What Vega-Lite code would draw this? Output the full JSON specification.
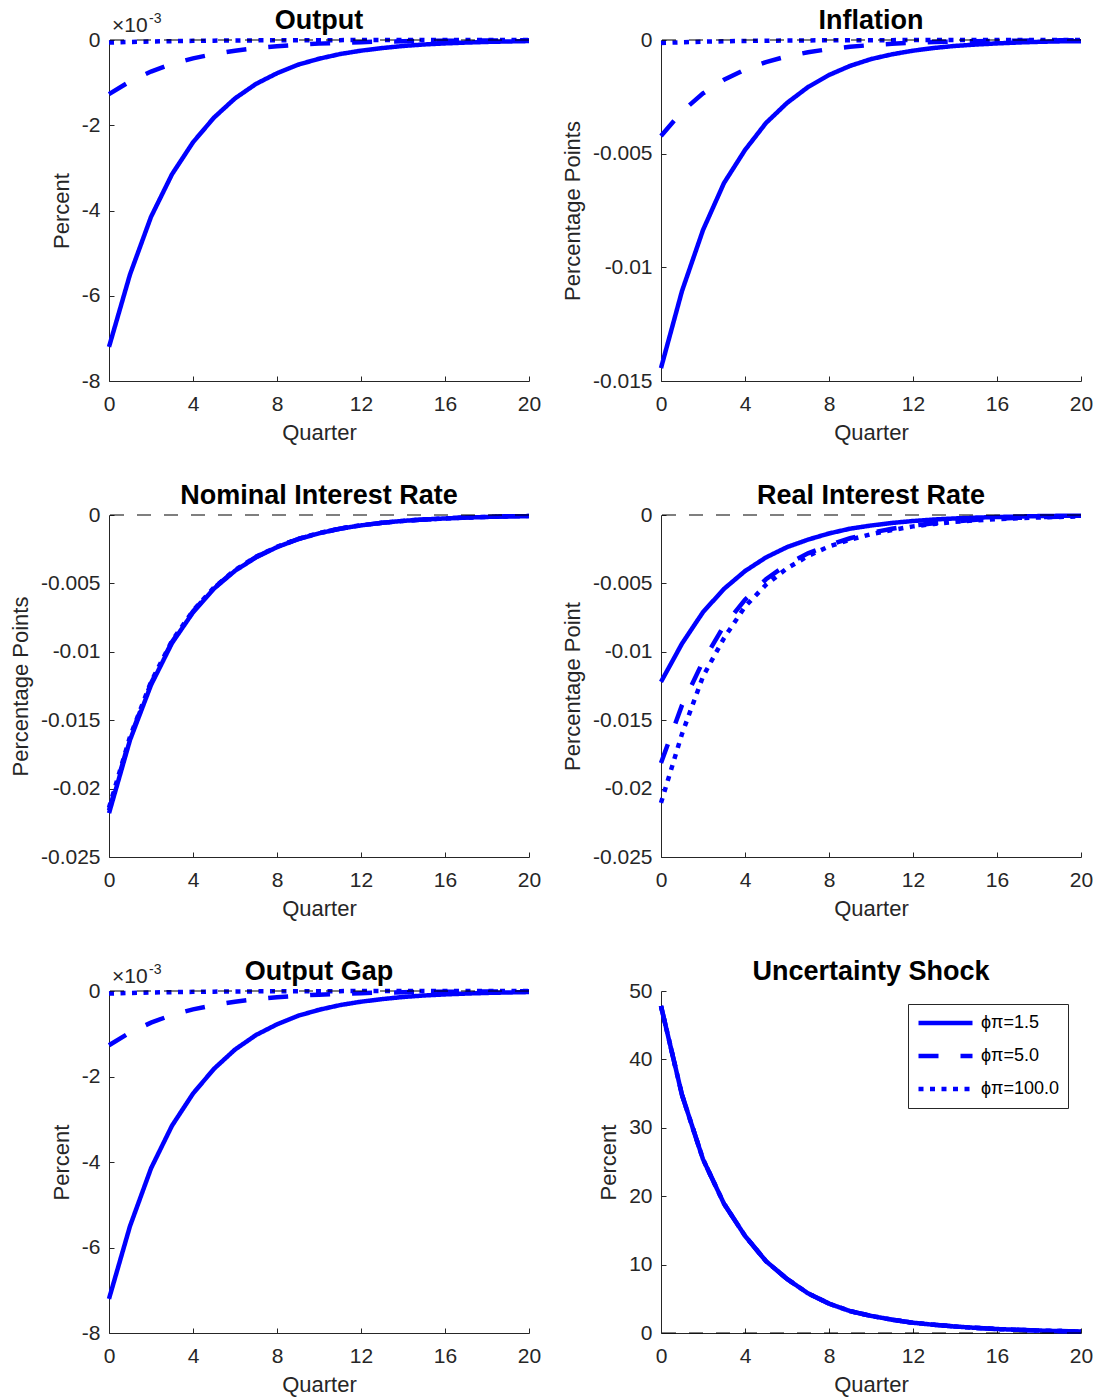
{
  "$schema": "https://vega.github.io/schema/vega-lite/v6.json",
  "background": "white",
  "padding": {"left": 9, "top": 7, "right": 5, "bottom": 2},
  "spacing": {"row": 39, "column": 20},
  "columns": 2,
  "datasets": {
    "irf": [
      {"p":"out","q":0,"a":-0.0072,"b":-0.00127,"c":-0.00006},
      {"p":"out","q":1,"a":-0.0055,"b":-0.00097,"c":-0.000046},
      {"p":"out","q":2,"a":-0.00415,"b":-0.00074,"c":-0.000035},
      {"p":"out","q":3,"a":-0.00315,"b":-0.00056,"c":-0.000027},
      {"p":"out","q":4,"a":-0.0024,"b":-0.00043,"c":-0.00002},
      {"p":"out","q":5,"a":-0.00182,"b":-0.00033,"c":-0.000015},
      {"p":"out","q":6,"a":-0.00137,"b":-0.00025,"c":-0.000012},
      {"p":"out","q":7,"a":-0.00103,"b":-0.00019,"c":-0.000009},
      {"p":"out","q":8,"a":-0.00078,"b":-0.000145,"c":-0.000007},
      {"p":"out","q":9,"a":-0.00058,"b":-0.00011,"c":-0.000005},
      {"p":"out","q":10,"a":-0.00044,"b":-0.000085,"c":-0.000004},
      {"p":"out","q":11,"a":-0.00033,"b":-0.000065,"c":-0.000003},
      {"p":"out","q":12,"a":-0.00025,"b":-0.00005,"c":-0.0000023},
      {"p":"out","q":13,"a":-0.00019,"b":-0.000038,"c":-0.0000017},
      {"p":"out","q":14,"a":-0.00014,"b":-0.000029,"c":-0.0000013},
      {"p":"out","q":15,"a":-0.000105,"b":-0.000022,"c":-0.000001},
      {"p":"out","q":16,"a":-0.00008,"b":-0.000017,"c":-0.0000008},
      {"p":"out","q":17,"a":-0.00006,"b":-0.000013,"c":-0.0000006},
      {"p":"out","q":18,"a":-0.000045,"b":-0.00001,"c":-0.0000005},
      {"p":"out","q":19,"a":-0.000034,"b":-0.000008,"c":-0.0000004},
      {"p":"out","q":20,"a":-0.000025,"b":-0.000006,"c":-0.0000003},

      {"p":"inf","q":0,"a":-0.01443,"b":-0.00422,"c":-0.00013},
      {"p":"inf","q":1,"a":-0.01104,"b":-0.00315,"c":-0.0001},
      {"p":"inf","q":2,"a":-0.00836,"b":-0.00235,"c":-0.000075},
      {"p":"inf","q":3,"a":-0.00629,"b":-0.00175,"c":-0.000056},
      {"p":"inf","q":4,"a":-0.00484,"b":-0.0013,"c":-0.000042},
      {"p":"inf","q":5,"a":-0.00365,"b":-0.00097,"c":-0.000032},
      {"p":"inf","q":6,"a":-0.00277,"b":-0.00072,"c":-0.000024},
      {"p":"inf","q":7,"a":-0.00207,"b":-0.00054,"c":-0.000018},
      {"p":"inf","q":8,"a":-0.00154,"b":-0.0004,"c":-0.000013},
      {"p":"inf","q":9,"a":-0.00114,"b":-0.0003,"c":-0.00001},
      {"p":"inf","q":10,"a":-0.00084,"b":-0.00022,"c":-0.0000075},
      {"p":"inf","q":11,"a":-0.00063,"b":-0.00017,"c":-0.0000056},
      {"p":"inf","q":12,"a":-0.00047,"b":-0.00012,"c":-0.0000042},
      {"p":"inf","q":13,"a":-0.00035,"b":-0.00009,"c":-0.0000032},
      {"p":"inf","q":14,"a":-0.00026,"b":-0.00007,"c":-0.0000024},
      {"p":"inf","q":15,"a":-0.0002,"b":-0.00005,"c":-0.0000018},
      {"p":"inf","q":16,"a":-0.00015,"b":-0.00004,"c":-0.0000013},
      {"p":"inf","q":17,"a":-0.00011,"b":-0.00003,"c":-0.000001},
      {"p":"inf","q":18,"a":-0.00008,"b":-0.00002,"c":-0.0000008},
      {"p":"inf","q":19,"a":-0.00006,"b":-0.000015,"c":-0.0000006},
      {"p":"inf","q":20,"a":-0.00005,"b":-0.00001,"c":-0.0000004},

      {"p":"nom","q":0,"a":-0.0218,"b":-0.0216,"c":-0.0214},
      {"p":"nom","q":1,"a":-0.01645,"b":-0.0163,"c":-0.0162},
      {"p":"nom","q":2,"a":-0.01243,"b":-0.0123,"c":-0.0122},
      {"p":"nom","q":3,"a":-0.00936,"b":-0.00927,"c":-0.0092},
      {"p":"nom","q":4,"a":-0.00712,"b":-0.00705,"c":-0.007},
      {"p":"nom","q":5,"a":-0.00538,"b":-0.00533,"c":-0.0053},
      {"p":"nom","q":6,"a":-0.00408,"b":-0.00404,"c":-0.00402},
      {"p":"nom","q":7,"a":-0.0031,"b":-0.00307,"c":-0.00305},
      {"p":"nom","q":8,"a":-0.00235,"b":-0.00233,"c":-0.00232},
      {"p":"nom","q":9,"a":-0.00177,"b":-0.00176,"c":-0.00175},
      {"p":"nom","q":10,"a":-0.00134,"b":-0.00133,"c":-0.00132},
      {"p":"nom","q":11,"a":-0.001,"b":-0.001,"c":-0.00099},
      {"p":"nom","q":12,"a":-0.00076,"b":-0.00076,"c":-0.00075},
      {"p":"nom","q":13,"a":-0.00057,"b":-0.00057,"c":-0.00057},
      {"p":"nom","q":14,"a":-0.00043,"b":-0.00043,"c":-0.00043},
      {"p":"nom","q":15,"a":-0.00033,"b":-0.00033,"c":-0.00033},
      {"p":"nom","q":16,"a":-0.00025,"b":-0.00025,"c":-0.00025},
      {"p":"nom","q":17,"a":-0.00019,"b":-0.00019,"c":-0.00019},
      {"p":"nom","q":18,"a":-0.00014,"b":-0.00014,"c":-0.00014},
      {"p":"nom","q":19,"a":-0.0001,"b":-0.0001,"c":-0.0001},
      {"p":"nom","q":20,"a":-0.00008,"b":-0.00008,"c":-0.00008},

      {"p":"real","q":0,"a":-0.0122,"b":-0.01813,"c":-0.02105},
      {"p":"real","q":1,"a":-0.0094,"b":-0.0139,"c":-0.016},
      {"p":"real","q":2,"a":-0.0071,"b":-0.0107,"c":-0.0118},
      {"p":"real","q":3,"a":-0.0054,"b":-0.0081,"c":-0.009},
      {"p":"real","q":4,"a":-0.0041,"b":-0.0062,"c":-0.0067},
      {"p":"real","q":5,"a":-0.0031,"b":-0.0047,"c":-0.0051},
      {"p":"real","q":6,"a":-0.00235,"b":-0.0036,"c":-0.0039},
      {"p":"real","q":7,"a":-0.0018,"b":-0.0028,"c":-0.003},
      {"p":"real","q":8,"a":-0.00135,"b":-0.0022,"c":-0.0023},
      {"p":"real","q":9,"a":-0.001,"b":-0.0017,"c":-0.0018},
      {"p":"real","q":10,"a":-0.00077,"b":-0.0013,"c":-0.0014},
      {"p":"real","q":11,"a":-0.00058,"b":-0.001,"c":-0.0011},
      {"p":"real","q":12,"a":-0.00044,"b":-0.00077,"c":-0.00083},
      {"p":"real","q":13,"a":-0.00033,"b":-0.0006,"c":-0.00065},
      {"p":"real","q":14,"a":-0.00025,"b":-0.00046,"c":-0.0005},
      {"p":"real","q":15,"a":-0.00019,"b":-0.00035,"c":-0.00039},
      {"p":"real","q":16,"a":-0.00015,"b":-0.00027,"c":-0.0003},
      {"p":"real","q":17,"a":-0.00011,"b":-0.0002,"c":-0.00023},
      {"p":"real","q":18,"a":-0.00008,"b":-0.00016,"c":-0.00018},
      {"p":"real","q":19,"a":-0.00006,"b":-0.00012,"c":-0.00014},
      {"p":"real","q":20,"a":-0.00005,"b":-0.00009,"c":-0.00011},

      {"p":"gap","q":0,"a":-0.0072,"b":-0.00127,"c":-0.00006},
      {"p":"gap","q":1,"a":-0.0055,"b":-0.00097,"c":-0.000046},
      {"p":"gap","q":2,"a":-0.00415,"b":-0.00074,"c":-0.000035},
      {"p":"gap","q":3,"a":-0.00315,"b":-0.00056,"c":-0.000027},
      {"p":"gap","q":4,"a":-0.0024,"b":-0.00043,"c":-0.00002},
      {"p":"gap","q":5,"a":-0.00182,"b":-0.00033,"c":-0.000015},
      {"p":"gap","q":6,"a":-0.00137,"b":-0.00025,"c":-0.000012},
      {"p":"gap","q":7,"a":-0.00103,"b":-0.00019,"c":-0.000009},
      {"p":"gap","q":8,"a":-0.00078,"b":-0.000145,"c":-0.000007},
      {"p":"gap","q":9,"a":-0.00058,"b":-0.00011,"c":-0.000005},
      {"p":"gap","q":10,"a":-0.00044,"b":-0.000085,"c":-0.000004},
      {"p":"gap","q":11,"a":-0.00033,"b":-0.000065,"c":-0.000003},
      {"p":"gap","q":12,"a":-0.00025,"b":-0.00005,"c":-0.0000023},
      {"p":"gap","q":13,"a":-0.00019,"b":-0.000038,"c":-0.0000017},
      {"p":"gap","q":14,"a":-0.00014,"b":-0.000029,"c":-0.0000013},
      {"p":"gap","q":15,"a":-0.000105,"b":-0.000022,"c":-0.000001},
      {"p":"gap","q":16,"a":-0.00008,"b":-0.000017,"c":-0.0000008},
      {"p":"gap","q":17,"a":-0.00006,"b":-0.000013,"c":-0.0000006},
      {"p":"gap","q":18,"a":-0.000045,"b":-0.00001,"c":-0.0000005},
      {"p":"gap","q":19,"a":-0.000034,"b":-0.000008,"c":-0.0000004},
      {"p":"gap","q":20,"a":-0.000025,"b":-0.000006,"c":-0.0000003},

      {"p":"unc","q":0,"a":47.8,"b":47.8,"c":47.8},
      {"p":"unc","q":1,"a":34.8,"b":34.8,"c":34.8},
      {"p":"unc","q":2,"a":25.4,"b":25.4,"c":25.4},
      {"p":"unc","q":3,"a":18.9,"b":18.9,"c":18.9},
      {"p":"unc","q":4,"a":14.2,"b":14.2,"c":14.2},
      {"p":"unc","q":5,"a":10.5,"b":10.5,"c":10.5},
      {"p":"unc","q":6,"a":7.9,"b":7.9,"c":7.9},
      {"p":"unc","q":7,"a":5.8,"b":5.8,"c":5.8},
      {"p":"unc","q":8,"a":4.3,"b":4.3,"c":4.3},
      {"p":"unc","q":9,"a":3.2,"b":3.2,"c":3.2},
      {"p":"unc","q":10,"a":2.5,"b":2.5,"c":2.5},
      {"p":"unc","q":11,"a":1.95,"b":1.95,"c":1.95},
      {"p":"unc","q":12,"a":1.5,"b":1.5,"c":1.5},
      {"p":"unc","q":13,"a":1.2,"b":1.2,"c":1.2},
      {"p":"unc","q":14,"a":0.95,"b":0.95,"c":0.95},
      {"p":"unc","q":15,"a":0.75,"b":0.75,"c":0.75},
      {"p":"unc","q":16,"a":0.58,"b":0.58,"c":0.58},
      {"p":"unc","q":17,"a":0.46,"b":0.46,"c":0.46},
      {"p":"unc","q":18,"a":0.36,"b":0.36,"c":0.36},
      {"p":"unc","q":19,"a":0.28,"b":0.28,"c":0.28},
      {"p":"unc","q":20,"a":0.22,"b":0.22,"c":0.22}
    ]
  },
  "data": {"name": "irf"},
  "resolve": {
    "scale": {"x": "independent", "y": "independent", "strokeDash": "independent"},
    "legend": {"strokeDash": "independent"}
  },
  "concat": [
    {
      "width": 420, "height": 341,
      "layer": [
        {
          "transform": [{"filter": "datum.p == 'out'"}, {"fold": ["a", "b", "c"], "as": ["s", "v"]}],
          "mark": {"type": "line", "color": "#0000FF", "strokeWidth": 4.5, "strokeCap": "butt"},
          "encoding": {
            "x": {"field": "q", "type": "quantitative", "scale": {"domain": [0, 20], "nice": false}, "axis": {"values": [0, 4, 8, 12, 16, 20], "title": "Quarter"}},
            "y": {"field": "v", "type": "quantitative", "scale": {"domain": [-0.008, 0], "nice": false, "zero": false}, "axis": {"values": [-0.008, -0.006, -0.004, -0.002, 0], "title": "Percent", "labelExpr": "datum.value == 0 ? '0' : '-' + format(-datum.value * 1000, '.0f')"}},
            "strokeDash": {"field": "s", "type": "nominal", "scale": {"domain": ["a", "b", "c"], "range": [[1, 0], [20, 22], [5, 6.5]]}, "legend": null}
          }
        },
        {"data": {"values": [{}]}, "mark": {"type": "rule", "color": "black", "strokeDash": [14, 13], "strokeWidth": 1.2}, "encoding": {"y": {"datum": 0}}},
        {"data": {"values": [{}]}, "mark": {"type": "text", "align": "left", "baseline": "alphabetic", "fontSize": 21, "dx": 3, "dy": -8, "color": "#262626"}, "encoding": {"x": {"datum": 0}, "y": {"datum": 0}, "text": {"value": "×10"}}},
        {"data": {"values": [{}]}, "mark": {"type": "text", "align": "left", "baseline": "alphabetic", "fontSize": 14, "dx": 40, "dy": -17, "color": "#262626"}, "encoding": {"x": {"datum": 0}, "y": {"datum": 0}, "text": {"value": "-3"}}},
        {"data": {"values": [{}]}, "mark": {"type": "text", "align": "center", "baseline": "alphabetic", "fontSize": 27, "fontWeight": "bold", "dy": -11, "color": "#000000"}, "encoding": {"x": {"datum": 10}, "y": {"datum": 0}, "text": {"value": "Output"}}}
      ]
    },
    {
      "width": 420, "height": 341,
      "layer": [
        {
          "transform": [{"filter": "datum.p == 'inf'"}, {"fold": ["a", "b", "c"], "as": ["s", "v"]}],
          "mark": {"type": "line", "color": "#0000FF", "strokeWidth": 4.5, "strokeCap": "butt"},
          "encoding": {
            "x": {"field": "q", "type": "quantitative", "scale": {"domain": [0, 20], "nice": false}, "axis": {"values": [0, 4, 8, 12, 16, 20], "title": "Quarter"}},
            "y": {"field": "v", "type": "quantitative", "scale": {"domain": [-0.015, 0], "nice": false, "zero": false}, "axis": {"values": [-0.015, -0.01, -0.005, 0], "title": "Percentage Points", "labelExpr": "datum.value == 0 ? '0' : '-' + format(-datum.value, '~g')"}},
            "strokeDash": {"field": "s", "type": "nominal", "scale": {"domain": ["a", "b", "c"], "range": [[1, 0], [20, 22], [5, 6.5]]}, "legend": null}
          }
        },
        {"data": {"values": [{}]}, "mark": {"type": "rule", "color": "black", "strokeDash": [14, 13], "strokeWidth": 1.2}, "encoding": {"y": {"datum": 0}}},
        {"data": {"values": [{}]}, "mark": {"type": "text", "align": "center", "baseline": "alphabetic", "fontSize": 27, "fontWeight": "bold", "dy": -11, "color": "#000000"}, "encoding": {"x": {"datum": 10}, "y": {"datum": 0}, "text": {"value": "Inflation"}}}
      ]
    },
    {
      "width": 420, "height": 342,
      "layer": [
        {
          "transform": [{"filter": "datum.p == 'nom'"}, {"fold": ["a", "b", "c"], "as": ["s", "v"]}],
          "mark": {"type": "line", "color": "#0000FF", "strokeWidth": 4.5, "strokeCap": "butt"},
          "encoding": {
            "x": {"field": "q", "type": "quantitative", "scale": {"domain": [0, 20], "nice": false}, "axis": {"values": [0, 4, 8, 12, 16, 20], "title": "Quarter"}},
            "y": {"field": "v", "type": "quantitative", "scale": {"domain": [-0.025, 0], "nice": false, "zero": false}, "axis": {"values": [-0.025, -0.02, -0.015, -0.01, -0.005, 0], "title": "Percentage Points", "labelExpr": "datum.value == 0 ? '0' : '-' + format(-datum.value, '~g')"}},
            "strokeDash": {"field": "s", "type": "nominal", "scale": {"domain": ["a", "b", "c"], "range": [[1, 0], [20, 22], [5, 6.5]]}, "legend": null}
          }
        },
        {"data": {"values": [{}]}, "mark": {"type": "rule", "color": "black", "strokeDash": [14, 13], "strokeWidth": 1.2}, "encoding": {"y": {"datum": 0}}},
        {"data": {"values": [{}]}, "mark": {"type": "text", "align": "center", "baseline": "alphabetic", "fontSize": 27, "fontWeight": "bold", "dy": -11, "color": "#000000"}, "encoding": {"x": {"datum": 10}, "y": {"datum": 0}, "text": {"value": "Nominal Interest Rate"}}}
      ]
    },
    {
      "width": 420, "height": 342,
      "layer": [
        {
          "transform": [{"filter": "datum.p == 'real'"}, {"fold": ["a", "b", "c"], "as": ["s", "v"]}],
          "mark": {"type": "line", "color": "#0000FF", "strokeWidth": 4.5, "strokeCap": "butt"},
          "encoding": {
            "x": {"field": "q", "type": "quantitative", "scale": {"domain": [0, 20], "nice": false}, "axis": {"values": [0, 4, 8, 12, 16, 20], "title": "Quarter"}},
            "y": {"field": "v", "type": "quantitative", "scale": {"domain": [-0.025, 0], "nice": false, "zero": false}, "axis": {"values": [-0.025, -0.02, -0.015, -0.01, -0.005, 0], "title": "Percentage Point", "labelExpr": "datum.value == 0 ? '0' : '-' + format(-datum.value, '~g')"}},
            "strokeDash": {"field": "s", "type": "nominal", "scale": {"domain": ["a", "b", "c"], "range": [[1, 0], [20, 22], [5, 6.5]]}, "legend": null}
          }
        },
        {"data": {"values": [{}]}, "mark": {"type": "rule", "color": "black", "strokeDash": [14, 13], "strokeWidth": 1.2}, "encoding": {"y": {"datum": 0}}},
        {"data": {"values": [{}]}, "mark": {"type": "text", "align": "center", "baseline": "alphabetic", "fontSize": 27, "fontWeight": "bold", "dy": -11, "color": "#000000"}, "encoding": {"x": {"datum": 10}, "y": {"datum": 0}, "text": {"value": "Real Interest Rate"}}}
      ]
    },
    {
      "width": 420, "height": 342,
      "layer": [
        {
          "transform": [{"filter": "datum.p == 'gap'"}, {"fold": ["a", "b", "c"], "as": ["s", "v"]}],
          "mark": {"type": "line", "color": "#0000FF", "strokeWidth": 4.5, "strokeCap": "butt"},
          "encoding": {
            "x": {"field": "q", "type": "quantitative", "scale": {"domain": [0, 20], "nice": false}, "axis": {"values": [0, 4, 8, 12, 16, 20], "title": "Quarter"}},
            "y": {"field": "v", "type": "quantitative", "scale": {"domain": [-0.008, 0], "nice": false, "zero": false}, "axis": {"values": [-0.008, -0.006, -0.004, -0.002, 0], "title": "Percent", "labelExpr": "datum.value == 0 ? '0' : '-' + format(-datum.value * 1000, '.0f')"}},
            "strokeDash": {"field": "s", "type": "nominal", "scale": {"domain": ["a", "b", "c"], "range": [[1, 0], [20, 22], [5, 6.5]]}, "legend": null}
          }
        },
        {"data": {"values": [{}]}, "mark": {"type": "rule", "color": "black", "strokeDash": [14, 13], "strokeWidth": 1.2}, "encoding": {"y": {"datum": 0}}},
        {"data": {"values": [{}]}, "mark": {"type": "text", "align": "left", "baseline": "alphabetic", "fontSize": 21, "dx": 3, "dy": -8, "color": "#262626"}, "encoding": {"x": {"datum": 0}, "y": {"datum": 0}, "text": {"value": "×10"}}},
        {"data": {"values": [{}]}, "mark": {"type": "text", "align": "left", "baseline": "alphabetic", "fontSize": 14, "dx": 40, "dy": -17, "color": "#262626"}, "encoding": {"x": {"datum": 0}, "y": {"datum": 0}, "text": {"value": "-3"}}},
        {"data": {"values": [{}]}, "mark": {"type": "text", "align": "center", "baseline": "alphabetic", "fontSize": 27, "fontWeight": "bold", "dy": -11, "color": "#000000"}, "encoding": {"x": {"datum": 10}, "y": {"datum": 0}, "text": {"value": "Output Gap"}}}
      ]
    },
    {
      "width": 420, "height": 342,
      "layer": [
        {
          "transform": [{"filter": "datum.p == 'unc'"}, {"fold": ["a", "b", "c"], "as": ["s", "v"]}],
          "mark": {"type": "line", "color": "#0000FF", "strokeWidth": 4.5, "strokeCap": "butt"},
          "encoding": {
            "x": {"field": "q", "type": "quantitative", "scale": {"domain": [0, 20], "nice": false}, "axis": {"values": [0, 4, 8, 12, 16, 20], "title": "Quarter"}},
            "y": {"field": "v", "type": "quantitative", "scale": {"domain": [0, 50], "nice": false}, "axis": {"values": [0, 10, 20, 30, 40, 50], "title": "Percent"}},
            "strokeDash": {
              "field": "s", "type": "nominal",
              "scale": {"domain": ["a", "b", "c"], "range": [[1, 0], [20, 22], [5, 6.5]]},
              "legend": {
                "orient": "top-right", "offset": 13, "title": null,
                "strokeColor": "#262626", "fillColor": "white", "padding": 8,
                "symbolType": "stroke", "symbolSize": 2916, "symbolStrokeWidth": 4.5, "symbolStrokeColor": "#0000FF",
                "clipHeight": 22,
                "labelFontSize": 18, "labelColor": "#000000", "labelOffset": 6, "rowPadding": 11,
                "labelExpr": "datum.value == 'a' ? 'ϕπ=1.5' : datum.value == 'b' ? 'ϕπ=5.0' : 'ϕπ=100.0'"
              }
            }
          }
        },
        {"data": {"values": [{}]}, "mark": {"type": "rule", "color": "black", "strokeDash": [14, 13], "strokeWidth": 1.2}, "encoding": {"y": {"datum": 0}}},
        {"data": {"values": [{}]}, "mark": {"type": "text", "align": "center", "baseline": "alphabetic", "fontSize": 27, "fontWeight": "bold", "dy": -11, "color": "#000000"}, "encoding": {"x": {"datum": 10}, "y": {"datum": 50}, "text": {"value": "Uncertainty Shock"}}}
      ]
    }
  ],
  "config": {
    "font": "Liberation Sans",
    "view": {"stroke": null},
    "axis": {
      "domainColor": "#262626", "domainWidth": 1, "tickColor": "#262626", "tickSize": -5, "tickWidth": 1,
      "labelColor": "#262626", "labelFontSize": 21, "labelFont": "Liberation Sans",
      "titleColor": "#262626", "titleFontSize": 22, "titleFontWeight": "normal", "titleFont": "Liberation Sans",
      "grid": false, "labelFlush": false, "labelOverlap": false, "labelBound": false
    },
    "axisY": {"labelPadding": 14, "titlePadding": 8},
    "axisX": {"labelPadding": 17, "titlePadding": 8}
  }
}
